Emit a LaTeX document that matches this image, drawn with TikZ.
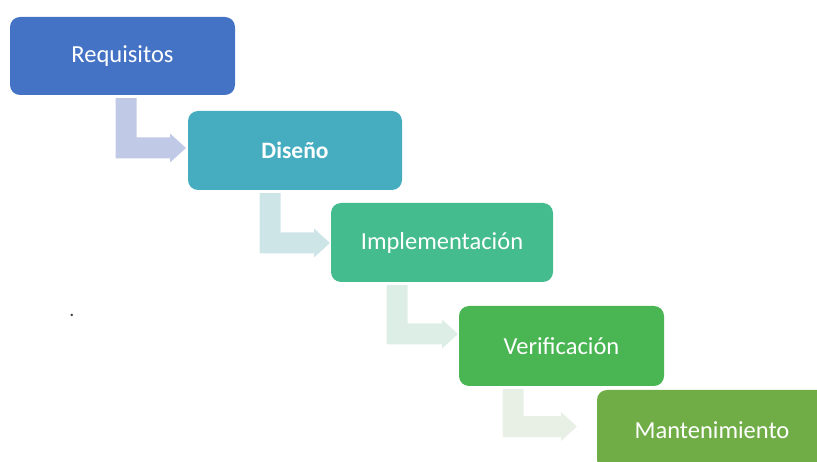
\documentclass[tikz,border=0pt]{standalone}
\usepackage{fontspec}
\setmainfont{Carlito}
\usepackage{tikz}
\usetikzlibrary{calc, positioning}
\definecolor{reqblue}{HTML}{4472C4}
\definecolor{disteal}{HTML}{46ADC1}
\definecolor{impgreen}{HTML}{45BC8D}
\definecolor{vergreen}{HTML}{4AB553}
\definecolor{manolive}{HTML}{70AD47}
\definecolor{arrowone}{HTML}{C0C9E5}
\definecolor{arrowtwo}{HTML}{CEE5E8}
\definecolor{arrowthree}{HTML}{DDEEE6}
\definecolor{arrowfour}{HTML}{E8F0E6}

% bent arrow: colour, source node, stem centre x, tip coordinate
\newcommand{\bentarrow}[4]{%
	\fill[#1] ($(#3,0 |- #2.south)+(-10.5,3)$) -- ++(21,0) -- ($(#3,0 |- #4)+(10.5,-10.5)$) -- ($(#4)+(-16,-10.5)$) -- ++(0,-4) -- (#4) -- ($(#4)+(-16,14.5)$) -- ++(0,-4) -- ($(#3,0 |- #4)+(-10.5,10.5)$) -- cycle;
}

\begin{document}
\begin{tikzpicture}[x=1pt, y=-1pt, fase/.style={rounded corners=10pt, inner sep=0pt, text=white, font=\fontsize{24.5}{28}\selectfont}]
		\clip (0,0) rectangle (817,462);
		\node[fase, fill=reqblue, minimum width=225pt, minimum height=78pt] (req) at (122.5,56) {Requisitos};
		\node[fase, fill=disteal, minimum width=214pt, minimum height=79pt, font=\fontsize{23.5}{28}\selectfont\bfseries] (dis) at (295,150.5) {Diseño};
		\node[fase, fill=impgreen, minimum width=222pt, minimum height=79pt] (imp) at (442,242.5) {Implementación};
		\node[fase, fill=vergreen, minimum width=205pt, minimum height=80pt] (ver) at (561.5,346) {Verificación};
		\node[fase, fill=manolive, minimum width=230pt, minimum height=80pt] (man) at (712,430) {Mantenimiento};
		\node[anchor=base, font=\fontsize{20}{22}\selectfont, text=black!75] (pto) at (72,317) {.};
		\coordinate (tip1) at (186,148);
		\coordinate (tip2) at (330,243);
		\coordinate (tip3) at (458,334);
		\coordinate (tip4) at (577,426.5);
		\bentarrow{arrowone}{req}{126}{tip1}
		\bentarrow{arrowtwo}{dis}{270}{tip2}
		\bentarrow{arrowthree}{imp}{397}{tip3}
		\bentarrow{arrowfour}{ver}{513}{tip4}
		\end{tikzpicture}
\end{document}
